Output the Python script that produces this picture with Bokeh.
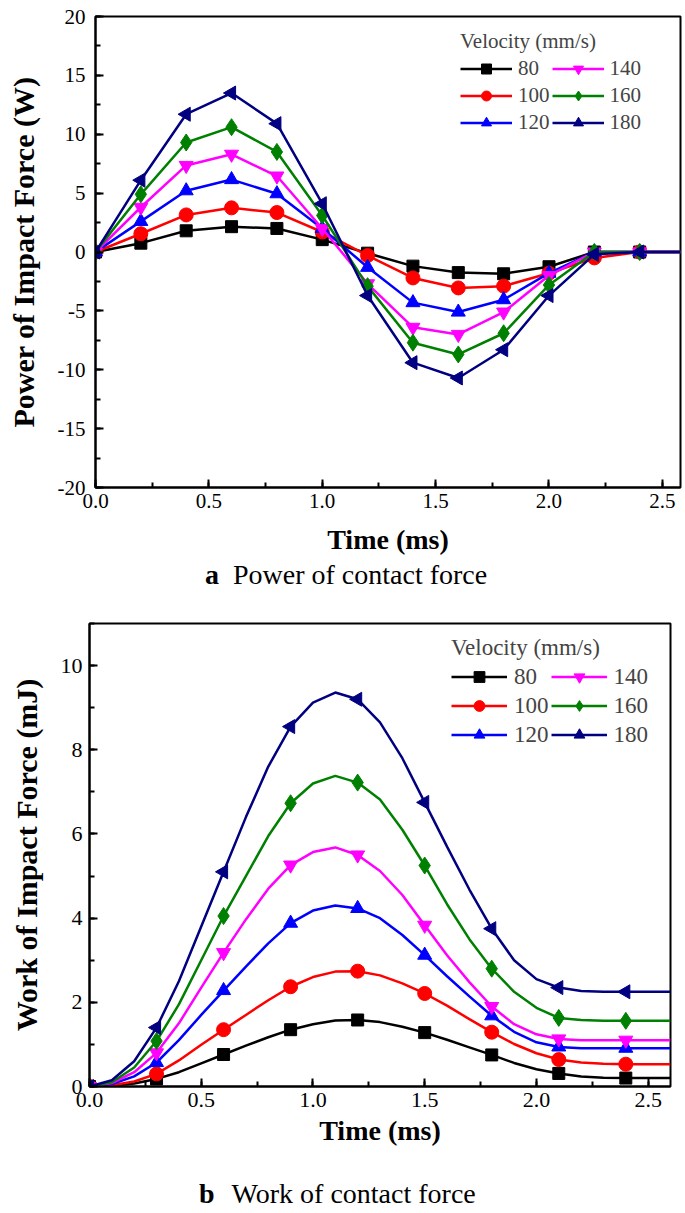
import math
from bokeh.plotting import figure
from bokeh.models import (Range1d, SingleIntervalTicker, NumeralTickFormatter,
                          Legend, LegendItem, Div)
from bokeh.embed import file_html
from bokeh.resources import INLINE

FONT = "Liberation Serif"

# ---------------- data: (a) power of contact force ----------------
t_power = [0.0, 0.2, 0.4, 0.6, 0.8, 1.0, 1.2, 1.4, 1.6, 1.8, 2.0, 2.2, 2.4, 2.6]
power_80 = [0, 0.75, 1.8, 2.15, 2.0, 1.05, -0.1, -1.2, -1.75, -1.85, -1.25, 0, 0, 0]
power_100 = [0, 1.55, 3.15, 3.75, 3.35, 1.7, -0.3, -2.2, -3.05, -2.9, -1.8, -0.5, 0, 0]
power_120 = [0, 2.6, 5.2, 6.15, 4.95, 2.0, -1.3, -4.3, -5.1, -4.05, -1.8, 0, 0, 0]
power_140 = [0, 3.8, 7.35, 8.3, 6.45, 2.0, -2.7, -6.4, -7.0, -5.1, -2.0, 0, 0, 0]
power_160 = [0, 4.9, 9.3, 10.6, 8.5, 3.1, -2.9, -7.7, -8.7, -6.9, -2.8, 0, 0, 0]
power_180 = [0, 6.1, 11.7, 13.5, 10.9, 4.1, -3.7, -9.4, -10.7, -8.3, -3.7, -0.2, 0, 0]
power_marker_count = 13  # markers drawn at 0.0 ... 2.4

# ---------------- data: (b) work of contact force ----------------
t_work = [0.0, 0.1, 0.2, 0.3, 0.4, 0.5, 0.6, 0.7, 0.8, 0.9, 1.0, 1.1, 1.2, 1.3,
          1.4, 1.5, 1.6, 1.7, 1.8, 1.9, 2.0, 2.1, 2.2, 2.3, 2.4, 2.5, 2.6]
work_80 = [0, 0.02, 0.07, 0.18, 0.34, 0.55, 0.76, 0.97, 1.17, 1.35, 1.48, 1.57, 1.58, 1.53,
           1.42, 1.28, 1.11, 0.93, 0.75, 0.56, 0.41, 0.31, 0.24, 0.21, 0.20, 0.20, 0.20]
work_100 = [0, 0.03, 0.12, 0.30, 0.62, 0.99, 1.35, 1.70, 2.05, 2.37, 2.60, 2.73, 2.74, 2.64,
            2.45, 2.21, 1.92, 1.60, 1.29, 1.01, 0.79, 0.64, 0.57, 0.54, 0.53, 0.53, 0.53]
work_120 = [0, 0.06, 0.24, 0.57, 1.10, 1.70, 2.28, 2.85, 3.40, 3.88, 4.18, 4.30, 4.23, 4.00,
            3.60, 3.12, 2.62, 2.14, 1.68, 1.30, 1.05, 0.94, 0.91, 0.91, 0.91, 0.91, 0.91]
work_140 = [0, 0.08, 0.34, 0.80, 1.50, 2.35, 3.18, 3.97, 4.70, 5.26, 5.57, 5.68, 5.50, 5.12,
            4.55, 3.83, 3.12, 2.48, 1.90, 1.48, 1.24, 1.13, 1.10, 1.10, 1.10, 1.10, 1.10]
work_160 = [0, 0.10, 0.45, 1.08, 1.95, 3.00, 4.05, 5.00, 5.95, 6.73, 7.20, 7.38, 7.22, 6.82,
            6.10, 5.25, 4.33, 3.50, 2.80, 2.25, 1.87, 1.63, 1.58, 1.56, 1.56, 1.56, 1.56]
work_180 = [0, 0.15, 0.60, 1.40, 2.50, 3.80, 5.10, 6.40, 7.60, 8.55, 9.12, 9.36, 9.20, 8.65,
            7.80, 6.75, 5.70, 4.68, 3.75, 3.00, 2.55, 2.35, 2.27, 2.25, 2.25, 2.25, 2.25]
work_marker_step = 3      # markers every 0.3 ms
work_marker_last = 24     # last marker at 2.4 ms

velocities = ["80", "100", "120", "140", "160", "180"]
colors = ["black", "red", "blue", "magenta", "green", "navy"]
markers = ["square", "circle", "triangle", "inverted_triangle", "diamond", "triangle"]
marker_sizes = [12, 14, 14, 14, 17, 14]
marker_angles = [0, 0, 0, 0, 0, math.pi / 2]

caption_a = ("a", "Power of contact force")
caption_b = ("b", "Work of contact force")


def style_axes(p, xlabel, ylabel, tick_size, xlab_size, ylab_size, xlab_standoff,
               ymaj_standoff):
    p.grid.visible = False
    p.outline_line_color = "black"
    p.outline_line_width = 2
    p.outline_line_alpha = 1
    for ax in (p.xaxis[0], p.yaxis[0]):
        ax.axis_line_width = 2
        ax.major_tick_in = 8
        ax.major_tick_out = 0
        ax.minor_tick_in = 5
        ax.minor_tick_out = 0
        ax.major_tick_line_width = 2
        ax.minor_tick_line_width = 2
        ax.major_label_text_font = FONT
        ax.major_label_text_font_size = tick_size
        ax.major_label_text_color = "black"
        ax.axis_label_text_font = FONT
        ax.axis_label_text_font_style = "bold"
        ax.axis_label_text_color = "black"
    p.xaxis.axis_label = xlabel
    p.xaxis.axis_label_text_font_size = xlab_size
    p.xaxis.major_label_standoff = 6
    p.xaxis.axis_label_standoff = xlab_standoff
    p.yaxis.axis_label = ylabel
    p.yaxis.axis_label_text_font_size = ylab_size
    p.yaxis.major_label_standoff = ymaj_standoff
    p.yaxis.axis_label_standoff = 15


def draw_series(p, xs, ys_list, marker_idx):
    items = []
    for lab, col, mk, ms, ang, ys in zip(velocities, colors, markers, marker_sizes,
                                         marker_angles, ys_list):
        l = p.line(xs, ys, line_color=col, line_width=2.5)
        mx = [xs[i] for i in marker_idx]
        my = [ys[i] for i in marker_idx]
        s = p.scatter(mx, my, marker=mk, size=ms, angle=ang,
                      fill_color=col, line_color=col)
        items.append(LegendItem(label=lab, renderers=[l, s]))
    return items


def make_legend(items, font_size, x, y, glyph_w, glyph_h, standoff):
    return Legend(items=items, ncols=2, location=(x, y),
                  title="Velocity (mm/s)",
                  title_text_font=FONT, title_text_font_size=font_size,
                  title_text_font_style="normal", title_standoff=2,
                  label_text_font=FONT, label_text_font_size=font_size,
                  glyph_width=glyph_w, glyph_height=glyph_h,
                  label_standoff=standoff, spacing=2, padding=0, margin=0,
                  border_line_color=None, background_fill_alpha=0)


def caption(letter, text, height, pad_left, pad_top, gap):
    html = ('<div style="padding-left:%dpx;padding-top:%dpx;'
            "font-family:'Liberation Serif',serif;font-size:28px;line-height:30px;"
            'color:black;white-space:nowrap;">'
            '<b>%s</b><span style="padding-left:%dpx">%s</span></div>'
            % (pad_left, pad_top, letter, gap, text))
    return Div(text=html, width=685, height=height, margin=0)


# ---------------- panel (a) ----------------
pa = figure(width=685, height=560, output_backend="svg", toolbar_location=None,
            x_range=Range1d(0, 2.58), y_range=Range1d(-20, 20),
            min_border_left=95, min_border_right=5, min_border_top=16,
            min_border_bottom=73)
pa.xaxis.ticker = SingleIntervalTicker(interval=0.5, num_minor_ticks=2)
pa.yaxis.ticker = SingleIntervalTicker(interval=5, num_minor_ticks=2)
pa.xaxis.formatter = NumeralTickFormatter(format="0.0")
pa.yaxis.formatter = NumeralTickFormatter(format="0")
style_axes(pa, "Time (ms)", "Power of Impact Force (W)", "21px", "28px", "30px", 13, 10)
items_a = draw_series(pa, t_power,
                      [power_80, power_100, power_120, power_140, power_160, power_180],
                      list(range(power_marker_count)))
pa.add_layout(make_legend(items_a, "21px", 365, 352, 52, 25, 6))

cap_a = caption(caption_a[0], caption_a[1], 45, 205, 0, 14)

# ---------------- panel (b) ----------------
pb = figure(width=685, height=550, output_backend="svg", toolbar_location=None,
            x_range=Range1d(0, 2.6), y_range=Range1d(0, 11),
            min_border_left=89, min_border_right=15, min_border_top=18,
            min_border_bottom=69)
pb.xaxis.ticker = SingleIntervalTicker(interval=0.5, num_minor_ticks=2)
pb.yaxis.ticker = SingleIntervalTicker(interval=2, num_minor_ticks=2)
pb.xaxis.formatter = NumeralTickFormatter(format="0.0")
pb.yaxis.formatter = NumeralTickFormatter(format="0")
style_axes(pb, "Time (ms)", "Work of Impact Force (mJ)", "22px", "28px", "30px", 5, 7)
items_b = draw_series(pb, t_work,
                      [work_80, work_100, work_120, work_140, work_160, work_180],
                      list(range(0, work_marker_last + 1, work_marker_step)))
pb.add_layout(make_legend(items_b, "23px", 362, 338, 56, 27, 7))

cap_b = caption(caption_b[0], caption_b[1], 52, 199, 24, 17)

open("out.html", "w").write(file_html([pa, cap_a, pb, cap_b], INLINE))
